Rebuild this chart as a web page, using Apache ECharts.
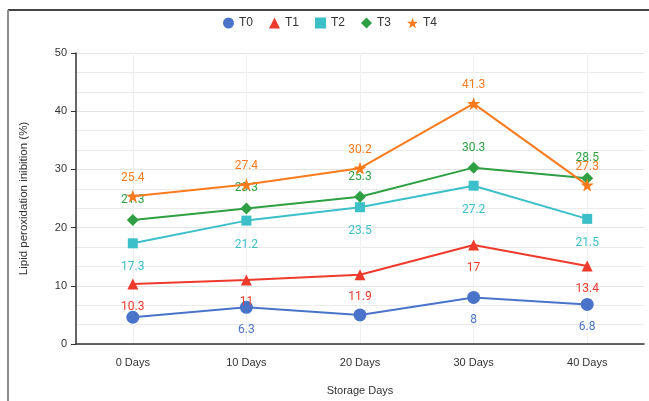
<!DOCTYPE html>
<html>
<head>
<meta charset="utf-8">
<script src="https://cdn.jsdelivr.net/npm/echarts@6/dist/echarts.min.js"></script>
<style>
  html, body { margin: 0; padding: 0; background: #fff; }
  #chart { width: 649px; height: 401px; }
</style>
</head>
<body>
<div id="chart"></div>
<script>
// Storage time points on the x axis
const storageDays = ['0 Days', '10 Days', '20 Days', '30 Days', '40 Days'];

// Lipid peroxidation inhibition (%) per treatment
const t0 = [4.6, 6.3, 5.0, 8, 6.8];
const t1 = [10.3, 11, 11.9, 17, 13.4];
const t2 = [17.3, 21.2, 23.5, 27.2, 21.5];
const t3 = [21.3, 23.3, 25.3, 30.3, 28.5];
const t4 = [25.4, 27.4, 30.2, 41.3, 27.3];

// Which T0 points carry a value label
const t0LabelShown = [false, true, false, true, true];

const seriesNames = ['T0', 'T1', 'T2', 'T3', 'T4'];

const STAR = 'path://M0,-10 L2.35,-3.24 L9.51,-3.09 L3.8,1.24 L5.88,8.09 L0,4 L-5.88,8.09 L-3.8,1.24 L-9.51,-3.09 L-2.35,-3.24 Z';

const styles = [
  { color: '#4a74c9', symbol: 'circle', size: 13, pos: 'bottom', dist: 10 },
  { color: '#ee3a2c', symbol: 'triangle', size: 11, pos: 'bottom', dist: 11 },
  { color: '#3bbfc8', symbol: 'rect', size: 10, pos: 'bottom', dist: 13 },
  { color: '#2ea043', symbol: 'diamond', size: 12, pos: 'top', dist: 8 },
  { color: '#fa7a1e', symbol: STAR, size: 13, pos: 'top', dist: 6 }
];

const values = [t0, t1, t2, t3, t4];
const labelFont = { fontFamily: 'Roboto', fontSize: 12 };
const axisFont = 'Liberation Sans, Arial, sans-serif';

const series = values.map((vals, i) => {
  const s = styles[i];
  return {
    name: seriesNames[i],
    type: 'line',
    data: vals.map((v, j) => i === 0
      ? { value: v, label: { show: t0LabelShown[j] } }
      : v),
    symbol: s.symbol,
    symbolSize: s.size,
    lineStyle: { color: s.color, width: 2 },
    itemStyle: { color: s.color },
    label: {
      show: true,
      position: s.pos,
      distance: s.dist,
      color: s.color,
      ...labelFont
    },
    emphasis: { disabled: true },
    z: 2 + i
  };
});

const chart = echarts.init(document.getElementById('chart'), null, { renderer: 'canvas' });

chart.setOption({
  animation: false,
  backgroundColor: '#fff',
  textStyle: { fontFamily: axisFont },
  legend: {
    top: 12,
    left: 218,
    itemWidth: 11,
    itemHeight: 11,
    itemGap: 16,
    textStyle: { color: '#333', fontSize: 12, fontFamily: axisFont },
    data: seriesNames.map((n, i) => ({
      name: n,
      icon: styles[i].symbol,
      itemStyle: { color: styles[i].color }
    }))
  },
  grid: { left: 76, right: 5, top: 53, bottom: 53 },
  xAxis: {
    type: 'category',
    data: storageDays,
    name: 'Storage Days',
    nameLocation: 'middle',
    nameGap: 41,
    nameTextStyle: { color: '#333', fontSize: 11 },
    axisLine: { lineStyle: { color: '#333', width: 1.5 } },
    axisTick: { alignWithLabel: true, length: 5, lineStyle: { color: '#333' } },
    axisLabel: { color: '#333', fontSize: 11, margin: 13 },
    splitLine: { show: true, alignWithLabel: true, lineStyle: { color: '#f0f0f0' } }
  },
  yAxis: {
    type: 'value',
    min: 0,
    max: 50,
    interval: 10,
    name: 'Lipid peroxidation inibition (%)',
    nameLocation: 'middle',
    nameGap: 46,
    nameTextStyle: { color: '#333', fontSize: 11.5 },
    axisLine: { show: true, lineStyle: { color: '#333', width: 1.5 } },
    axisTick: { show: true, length: 5, lineStyle: { color: '#333' } },
    axisLabel: { color: '#333', fontSize: 11, margin: 9 },
    splitLine: { show: true, lineStyle: { color: '#e4e4e4' } },
    minorTick: { show: false, splitNumber: 3 },
    minorSplitLine: { show: true, lineStyle: { color: '#ebebeb' } }
  },
  graphic: [
    { type: 'line', shape: { x1: 8, y1: 10, x2: 649, y2: 10 }, style: { stroke: '#444', lineWidth: 2 }, z: 100 },
    { type: 'line', shape: { x1: 8, y1: 10, x2: 8, y2: 401 }, style: { stroke: '#8c8c8c', lineWidth: 2 }, z: 100 }
  ],
  series: series
});
</script>
</body>
</html>
